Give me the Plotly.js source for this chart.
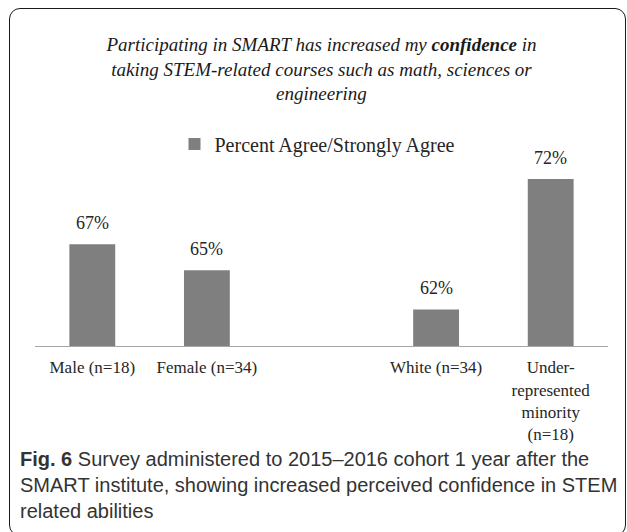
<!DOCTYPE html>
<html>
<head>
<meta charset="utf-8">
<script src="https://cdn.plot.ly/plotly-3.0.1.min.js"></script>
<style>
  html, body { margin: 0; padding: 0; background: #fff; }
  #wrap { position: relative; width: 627px; height: 532px; overflow: hidden; }
  #box { position: absolute; left: 9px; top: 8px; width: 617px; height: 528px;
         border: 1.6px solid #1a1a1a; border-radius: 11px; box-sizing: border-box; }
  #chart { position: absolute; left: 0; top: 0; width: 627px; height: 532px; }
</style>
</head>
<body>
<div id="wrap">
  <div id="box"></div>
  <div id="chart"></div>
</div>
<script>
// ---- data ----
const categories = ['Male (n=18)', 'Female (n=34)', ' ', 'White (n=34)', 'Under-<br>represented<br>minority<br>(n=18)'];
const percentAgree = [67, 65, null, 62, 72];
const valueLabels = ['67%', '65%', '', '62%', '72%'];
const seriesName = 'Percent Agree/Strongly Agree';
const chartTitle = '<i>Participating in SMART has increased my <b>confidence</b> in<br>taking STEM-related courses such as math, sciences or<br>engineering</i>';
const captionText = '<b>Fig. 6</b> Survey administered to 2015–2016 cohort 1 year after the<br>SMART institute, showing increased perceived confidence in STEM<br>related abilities';

// ---- layout constants ----
const W = 627, H = 532;
const M = {l: 35, r: 19, t: 125, b: 186};
const plotH = H - M.t - M.b, plotW = W - M.l - M.r;
const pxPerUnit = 13.04;
const yMin = 59.2;
const serif = 'Liberation Serif, serif';

const annotations = [];
categories.forEach((c, i) => {
  if (percentAgree[i] == null) return;
  annotations.push({
    x: c, y: percentAgree[i], xref: 'x', yref: 'y',
    text: valueLabels[i], showarrow: false,
    yanchor: 'bottom', yshift: 9,
    font: {family: serif, size: 18, color: '#262626'}
  });
});
// caption (pixel position converted to paper coordinates)
annotations.push({
  xref: 'paper', yref: 'paper',
  x: (18 - M.l) / plotW, y: (H - M.b - 446) / plotH,
  xanchor: 'left', yanchor: 'top', align: 'left',
  text: captionText, showarrow: false,
  font: {family: 'Liberation Sans, Arial, sans-serif', size: 20, color: '#333333'}
});

const trace = {
  type: 'bar',
  x: categories,
  y: percentAgree,
  name: seriesName,
  marker: {color: '#7f7f7f'},
  showlegend: true,
  hoverinfo: 'skip'
};

const layout = {
  width: W, height: H,
  margin: M,
  paper_bgcolor: 'rgba(0,0,0,0)',
  plot_bgcolor: 'rgba(0,0,0,0)',
  bargap: 0.6,
  title: {
    text: chartTitle,
    font: {family: serif, size: 19, color: '#1a1a1a'},
    x: 0.5, xref: 'paper', xanchor: 'center',
    y: 1 - 51 / H, yref: 'container', yanchor: 'top'
  },
  showlegend: true,
  legend: {
    orientation: 'h',
    x: 0.5 - 4 / plotW, xref: 'paper', xanchor: 'center',
    y: (H - M.b - 144) / plotH, yref: 'paper', yanchor: 'middle',
    font: {family: serif, size: 20, color: '#262626'},
    itemwidth: 30
  },
  xaxis: {
    type: 'category',
    categoryorder: 'array', categoryarray: categories,
    showline: true, linecolor: '#a6a6a6', linewidth: 1,
    ticks: '', showgrid: false, zeroline: false,
    ticklabelstandoff: 6,
    tickfont: {family: serif, size: 17, color: '#262626'},
    fixedrange: true
  },
  yaxis: {
    range: [yMin, yMin + plotH / pxPerUnit],
    visible: false, showgrid: false, zeroline: false,
    fixedrange: true
  },
  annotations: annotations
};

Plotly.newPlot('chart', [trace], layout, {displayModeBar: false, staticPlot: true});
</script>
</body>
</html>
